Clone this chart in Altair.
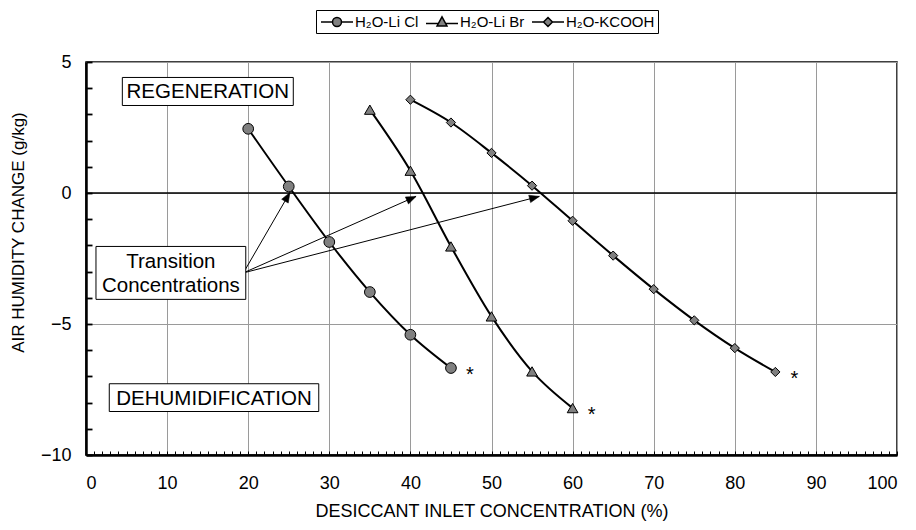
import math
import altair as alt
import pandas as pd

# ---------------- data ----------------
series_names = ["H₂O-Li Cl", "H₂O-Li Br", "H₂O-KCOOH"]

licl_x = [20, 25, 30, 35, 40, 45]
licl_y = [2.45, 0.25, -1.87, -3.78, -5.41, -6.68]

libr_x = [35, 40, 45, 50, 55, 60]
libr_y = [3.18, 0.85, -2.04, -4.71, -6.81, -8.21]

kcooh_x = [40, 45, 50, 55, 60, 65, 70, 75, 80, 85]
kcooh_y = [3.56, 2.69, 1.53, 0.28, -1.06, -2.39, -3.67, -4.86, -5.92, -6.83]

x_major = [0, 10, 20, 30, 40, 50, 60, 70, 80, 90, 100]
x_minor = list(range(0, 101))
y_major = [-10, -5, 0, 5]
y_minor = list(range(-10, 6))

box_labels = ["REGENERATION", "Transition\nConcentrations", "DEHUMIDIFICATION"]
box_x1 = [4.48, 1.23, 2.87]
box_x2 = [25.56, 19.7, 28.7]
box_y1 = [3.34, -4.06, -8.34]
box_y2 = [4.41, -2.04, -7.28]

arrow_from_x = 19.4
arrow_from_y = -3.05
arrow_to_x = [25.15, 40.7, 55.9]
arrow_to_y = [0.02, -0.13, -0.13]

# ---------------- layout ----------------
W, H = 811, 393
PAD = {"left": 86, "top": 62, "right": 19, "bottom": 75}
FONT = "Liberation Sans"

rows = []
for name, xs_, ys_ in zip(series_names, [licl_x, libr_x, kcooh_x], [licl_y, libr_y, kcooh_y]):
    for i, (a, b) in enumerate(zip(xs_, ys_)):
        rows.append({"series": name, "x": a, "y": b, "order": i})
df = pd.DataFrame(rows)

last = pd.DataFrame({
    "x": [licl_x[-1], libr_x[-1], kcooh_x[-1]],
    "y": [licl_y[-1], libr_y[-1], kcooh_y[-1]],
})

boxes = pd.DataFrame({"label": box_labels, "x1": box_x1, "x2": box_x2,
                      "y1": box_y1, "y2": box_y2})
boxes["cx"] = (boxes["x1"] + boxes["x2"]) / 2
boxes["cy"] = (boxes["y1"] + boxes["y2"]) / 2
boxes["multi"] = boxes["label"].str.contains("\n")

px_x = W / 100.0
px_y = H / 15.0
arrows = pd.DataFrame({"x0": arrow_from_x, "y0": arrow_from_y,
                       "x1": arrow_to_x, "y1": arrow_to_y})
arrows["angle"] = [
    math.degrees(math.atan2((b - arrow_from_x) * px_x, (c - arrow_from_y) * px_y)) % 360
    for b, c in zip(arrow_to_x, arrow_to_y)
]

xs = alt.Scale(domain=[0, 100], nice=False, zero=False)
ys = alt.Scale(domain=[-10, 5], nice=False, zero=False)

# ---------------- axes ----------------
main_x_axis = alt.Axis(values=x_major, orient="bottom", ticks=False, grid=True,
                       gridColor="#9a9a9a", gridWidth=1, domainColor="black",
                       domainWidth=2.5, labelFont=FONT, labelFontSize=18,
                       labelColor="black", labelPadding=19,
                       title="DESICCANT INLET CONCENTRATION (%)",
                       titleFont=FONT, titleFontSize=18, titleFontWeight="normal",
                       titleColor="black", titlePadding=10)
main_y_axis = alt.Axis(values=y_major, orient="left", ticks=False, grid=True,
                       gridColor="#9a9a9a", gridWidth=1, domainColor="black",
                       domainWidth=2.5, labelFont=FONT, labelFontSize=18,
                       labelColor="black", labelPadding=15,
                       title="AIR HUMIDITY CHANGE (g/kg)",
                       titleFont=FONT, titleFontSize=17, titleFontWeight="normal",
                       titleColor="black", titlePadding=13, titleY=170)

minor_x_axis = alt.Axis(values=x_minor, orient="top", offset=-H, labels=False,
                        domain=False, grid=False, ticks=True, tickSize=4,
                        tickWidth=1, tickColor="black", title=None)
minor_y_axis = alt.Axis(values=y_minor, orient="right", offset=-W, labels=False,
                        domain=False, grid=False, ticks=True, tickSize=6,
                        tickWidth=1.8, tickColor="black", title=None)

# ---------------- layers ----------------
zero_rule = alt.Chart(pd.DataFrame({"y": [0]})).mark_rule(
    color="black", strokeWidth=1.5
).encode(y=alt.Y("y:Q", scale=ys, axis=None))

lines = alt.Chart(df).mark_line(
    color="black", strokeWidth=2, interpolate="monotone"
).encode(
    x=alt.X("x:Q", scale=xs, axis=minor_x_axis),
    y=alt.Y("y:Q", scale=ys, axis=minor_y_axis),
    detail="series:N",
    order="order:Q",
)

marker_shapes = ["circle", "triangle-up", "diamond"]
marker_sizes = [115, 115, 85]
point_layers = []
for k, (name, shp, sz) in enumerate(zip(series_names, marker_shapes, marker_sizes)):
    enc_axes = dict(x=alt.X("x:Q", scale=xs, axis=main_x_axis if k == 0 else None),
                    y=alt.Y("y:Q", scale=ys, axis=main_y_axis if k == 0 else None))
    point_layers.append(
        alt.Chart(df).transform_filter(alt.datum.series == name).mark_point(
            shape=shp, size=sz, filled=True, fill="#808080", stroke="black",
            strokeWidth=1, opacity=1
        ).encode(**enc_axes)
    )

legend_paths = [
    "M-2,0L-0.56,0M0.56,0L2,0M-0.56,0A0.56,0.56 0 1,0 0.56,0A0.56,0.56 0 1,0 -0.56,0Z",
    "M-2,0.2L-0.46,0.2M0.46,0.2L2,0.2M0,-0.65L0.62,0.5L-0.62,0.5Z",
    "M-2,0L-0.56,0M0.56,0L2,0M0,-0.56L0.56,0L0,0.56L-0.56,0Z",
]
legend_def = alt.Legend(
    title=None, orient="none", legendX=230, legendY=-52,
    direction="horizontal", strokeColor="black", fillColor="white",
    padding=3, symbolSize=256, symbolOffset=9, labelOffset=9,
    columnPadding=4, symbolFillColor="#808080",
    symbolStrokeColor="black", symbolStrokeWidth=1.5,
    symbolOpacity=1, labelFont=FONT, labelFontSize=15,
    labelColor="black")
legend_layer = alt.Chart(df).transform_filter("datum.x < -1000").mark_point(
    filled=True, fill="#808080", strokeWidth=1.5, opacity=1
).encode(
    x=alt.X("x:Q", scale=xs, axis=None),
    y=alt.Y("y:Q", scale=ys, axis=None),
    shape=alt.Shape("series:N", scale=alt.Scale(domain=series_names, range=legend_paths),
                    legend=legend_def),
    stroke=alt.Stroke("series:N", scale=alt.Scale(domain=series_names,
                      range=["black", "black", "black"]), legend=legend_def),
)

stars = alt.Chart(last).mark_text(
    text="*", font=FONT, fontSize=20, dx=19, dy=7, color="black"
).encode(x=alt.X("x:Q", scale=xs, axis=None), y=alt.Y("y:Q", scale=ys, axis=None))

box_rects = alt.Chart(boxes).mark_rect(
    fill="white", stroke="black", strokeWidth=1
).encode(
    x=alt.X("x1:Q", scale=xs, axis=None), x2="x2:Q",
    y=alt.Y("y1:Q", scale=ys, axis=None), y2="y2:Q",
)
box_text_single = alt.Chart(boxes).transform_filter("!datum.multi").mark_text(
    font=FONT, fontSize=20.5, color="black", align="center", baseline="middle", dy=1
).encode(
    x=alt.X("cx:Q", scale=xs, axis=None),
    y=alt.Y("cy:Q", scale=ys, axis=None),
    text="label:N",
)
box_text_multi = alt.Chart(boxes).transform_filter("datum.multi").mark_text(
    font=FONT, fontSize=20.5, color="black", lineBreak="\n", lineHeight=24,
    align="center", baseline="middle", dy=-11
).encode(
    x=alt.X("cx:Q", scale=xs, axis=None),
    y=alt.Y("cy:Q", scale=ys, axis=None),
    text="label:N",
)

arrow_lines = alt.Chart(arrows).mark_rule(color="black", strokeWidth=1).encode(
    x=alt.X("x0:Q", scale=xs, axis=None), x2="x1:Q",
    y=alt.Y("y0:Q", scale=ys, axis=None), y2="y1:Q",
)
arrow_heads = alt.Chart(arrows).mark_point(
    shape="M0,0L-0.38,1L0.38,1Z", size=400, filled=True, fill="black",
    stroke="black", strokeWidth=0.5, opacity=1
).encode(
    x=alt.X("x1:Q", scale=xs, axis=None),
    y=alt.Y("y1:Q", scale=ys, axis=None),
    angle=alt.Angle("angle:Q", scale=None),
)

chart = alt.layer(
    zero_rule, lines, arrow_lines, arrow_heads, *point_layers, legend_layer,
    stars, box_rects, box_text_single, box_text_multi,
).resolve_axis(x="independent", y="independent").properties(
    width=W, height=H, autosize="none", padding=PAD, background="white"
).configure_view(stroke="black", strokeWidth=1.5)

chart.save("out.html", embed_options={"renderer": "svg", "actions": False})
